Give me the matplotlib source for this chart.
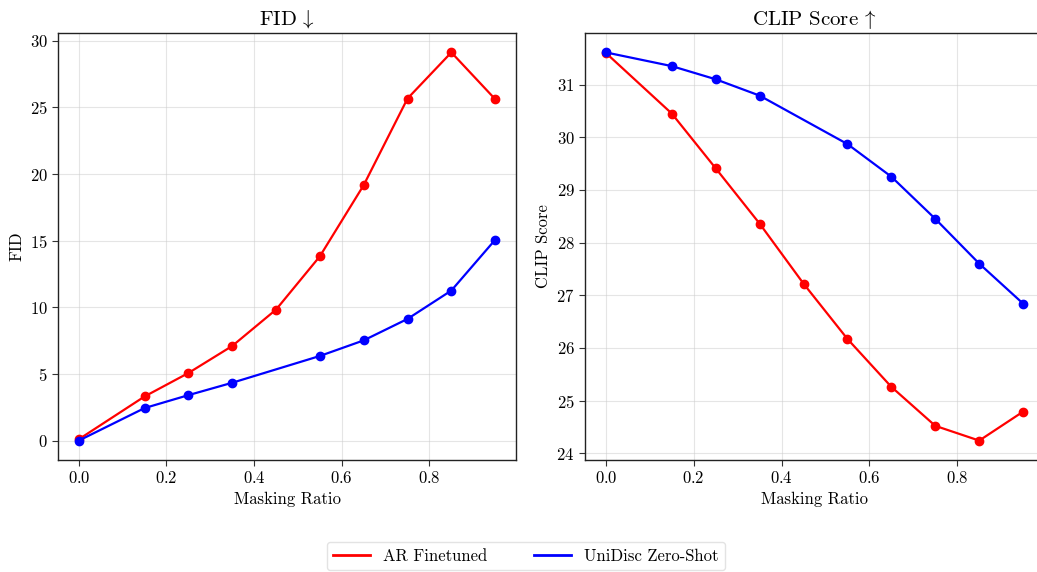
import matplotlib
matplotlib.use('Agg')
import matplotlib.pyplot as plt

plt.rcParams['font.family'] = ['cmr10', 'DejaVu Serif']
plt.rcParams['mathtext.fontset'] = 'cm'
plt.rcParams['axes.formatter.use_mathtext'] = True
plt.rcParams['axes.unicode_minus'] = False

# masking ratios
ar_x = [0.0, 0.15, 0.25, 0.35, 0.45, 0.55, 0.65, 0.75, 0.85, 0.95]
uni_x = [0.0, 0.15, 0.25, 0.35, 0.55, 0.65, 0.75, 0.85, 0.95]

# FID
ar_fid = [0.1, 3.31, 5.07, 7.1, 9.83, 13.83, 19.17, 25.67, 29.13, 25.62]
uni_fid = [0.0, 2.44, 3.41, 4.34, 6.35, 7.52, 9.13, 11.26, 15.07]

# CLIP score
ar_clip = [31.60, 30.45, 29.41, 28.36, 27.22, 26.17, 25.26, 24.52, 24.24, 24.79]
uni_clip = [31.61, 31.35, 31.10, 30.79, 29.87, 29.25, 28.45, 27.60, 26.84]

fig = plt.figure(figsize=(10.37, 5.72), dpi=100)
W, H = 1037, 572
ax1 = fig.add_axes([58 / W, 1 - 460 / H, (516 - 58) / W, (460 - 33) / H])
ax2 = fig.add_axes([585 / W, 1 - 460 / H, (1044 - 585) / W, (460 - 33) / H])

for ax, ar, uni, title, ylab in [
    (ax1, ar_fid, uni_fid, r'FID$\,\downarrow$', 'FID'),
    (ax2, ar_clip, uni_clip, r'CLIP Score$\,\uparrow$', 'CLIP Score'),
]:
    ax.plot(ar_x, ar, color='red', marker='o', markersize=6, linewidth=1.6,
            label='AR Finetuned')
    ax.plot(uni_x, uni, color='blue', marker='o', markersize=6, linewidth=1.6,
            label='UniDisc Zero-Shot')
    ax.set_title(title, fontsize=15)
    ax.set_xlabel('Masking Ratio', fontsize=12)
    ax.set_ylabel(ylab, fontsize=12)
    ax.grid(True, color='#cccccc', alpha=0.5, linewidth=0.8)
    ax.tick_params(labelsize=12, length=4, color='#333333')
    for s in ax.spines.values():
        s.set_color('#222222')
        s.set_linewidth(1.0)

ax1.set_yticks([0, 5, 10, 15, 20, 25, 30])
ax1.set_xticks([0.0, 0.2, 0.4, 0.6, 0.8])
ax2.set_xticks([0.0, 0.2, 0.4, 0.6, 0.8])
ax2.set_yticks([24, 25, 26, 27, 28, 29, 30, 31])

handles, labels = ax1.get_legend_handles_labels()
leg = fig.legend([plt.Line2D([], [], color='red', linewidth=2),
                  plt.Line2D([], [], color='blue', linewidth=2)],
                 labels, loc='center', bbox_to_anchor=(526 / W, 1 - 556 / H),
                 ncol=2, fontsize=12, frameon=True, columnspacing=2.8,
                 handlelength=2.2)
leg.get_frame().set_edgecolor('#dddddd')

fig.savefig('out.png', dpi=100)
